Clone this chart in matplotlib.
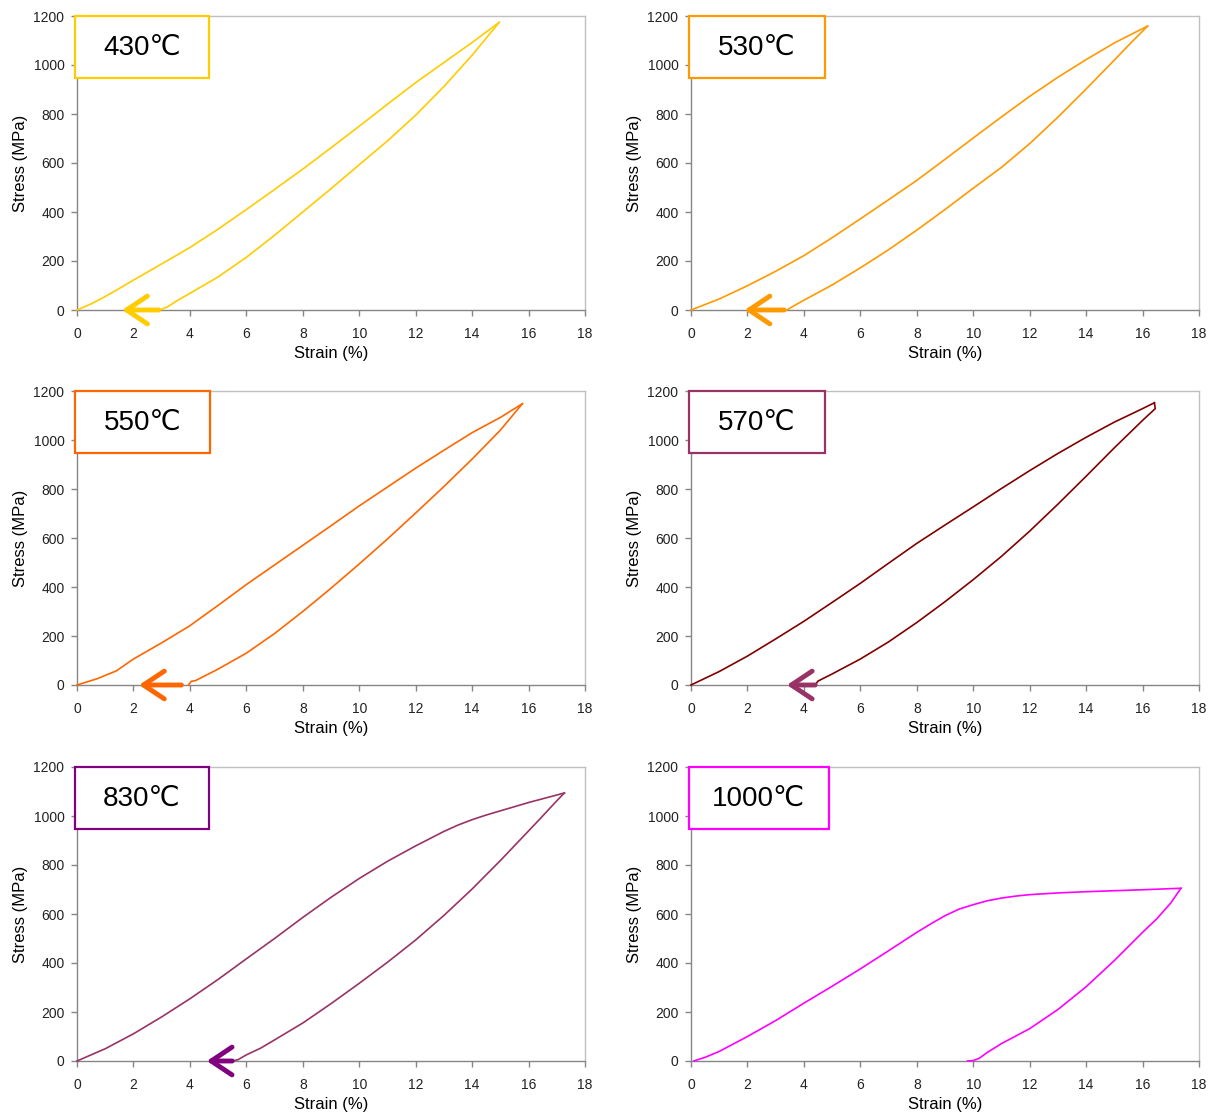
"""
Stress-strain loops at six temperatures, 3x2 grid, Excel-like styling.
"""
import matplotlib
matplotlib.use("Agg")
import matplotlib.pyplot as plt
from matplotlib.patches import Rectangle, FancyArrowPatch

plt.rcParams["font.family"] = ["Liberation Sans", "DejaVu Sans"]

# ----------------------------------------------------------------- data
TEMPS = ["430℃", "530℃", "550℃", "570℃", "830℃", "1000℃"]

load_430_x = [0, 0.5, 1, 1.5, 2, 3, 4, 5, 6, 7, 8, 9, 10, 11, 12, 13, 14, 14.96]
load_430_y = [0, 25, 55, 88, 122, 188, 255, 330, 410, 492, 575, 662, 750, 840, 928, 1010, 1092, 1174]
unload_430_x = [14.96, 14, 13, 12, 11, 10, 9, 8, 7, 6, 5, 4, 3.5, 3.2, 2.9]
unload_430_y = [1174, 1040, 912, 795, 690, 593, 495, 400, 305, 215, 135, 68, 35, 12, 0]

load_530_x = [0, 1, 2, 3, 4, 5, 6, 7, 8, 9, 10, 11, 12, 13, 14, 15, 16.18]
load_530_y = [0, 45, 99, 158, 222, 295, 372, 450, 529, 615, 702, 788, 872, 950, 1022, 1090, 1159]
unload_530_x = [16.18, 15.5, 15, 14, 13, 12, 11, 10, 9, 8, 7, 6, 5, 4, 3.6, 3.4]
unload_530_y = [1159, 1080, 1020, 902, 787, 679, 582, 497, 410, 326, 246, 172, 102, 40, 14, 0]

load_550_x = [0, 0.7, 1.4, 2, 3, 4, 5, 6, 7, 8, 9, 10, 11, 12, 13, 14, 15, 15.78]
load_550_y = [0, 25, 58, 106, 172, 242, 325, 410, 490, 570, 650, 731, 808, 885, 958, 1030, 1092, 1148]
unload_550_x = [15.78, 15, 14, 13, 12, 11, 10, 9, 8, 7, 6, 5, 4.2, 4.05, 3.95]
unload_550_y = [1148, 1040, 922, 810, 702, 596, 494, 395, 300, 210, 130, 65, 18, 15, 0]

load_570_x = [0, 1, 2, 3, 4, 5, 6, 7, 8, 9, 10, 11, 12, 13, 14, 15, 16, 16.42]
load_570_y = [0, 55, 118, 188, 260, 337, 415, 497, 578, 653, 727, 802, 875, 945, 1011, 1073, 1128, 1152]
unload_570_x = [16.42, 16.45, 16, 15, 14, 13, 12, 11, 10, 9, 8, 7, 6, 5, 4.5, 4.4]
unload_570_y = [1152, 1128, 1080, 968, 852, 738, 628, 525, 430, 340, 255, 176, 106, 45, 16, 0]

load_830_x = [0, 1, 2, 3, 4, 5, 6, 7, 8, 9, 10, 11, 12, 13, 13.5, 14, 14.5, 15, 16, 17.27]
load_830_y = [0, 50, 111, 180, 254, 333, 417, 500, 586, 668, 745, 815, 878, 937, 963, 985, 1004, 1021, 1055, 1094]
unload_830_x = [17.27, 17, 16.5, 16, 15, 14, 13, 12, 11, 10, 9, 8, 7, 6.5, 6, 5.7, 5.5]
unload_830_y = [1094, 1062, 1000, 939, 818, 702, 594, 494, 403, 317, 234, 155, 86, 52, 25, 5, 0]

load_1000_x = [0.1, 0.5, 1, 2, 3, 4, 5, 6, 7, 8, 8.5, 9, 9.5, 10, 10.5, 11, 11.5, 12, 13, 14, 15, 16, 17.36]
load_1000_y = [0, 15, 39, 100, 165, 236, 305, 376, 450, 525, 560, 593, 620, 638, 654, 665, 673, 679, 686, 691, 695, 699, 705]
unload_1000_x = [17.36, 17, 16.5, 16, 15, 14, 13, 12, 11, 10.5, 10.2, 10, 9.8]
unload_1000_y = [705, 645, 580, 525, 410, 303, 210, 132, 71, 35, 10, 2, 0]

# arrow along the strain axis at zero stress: (from, to), None = no arrow
ARROWS = [(2.9, 1.6), (3.3, 1.9), (3.7, 2.2), (4.4, 3.4), (5.5, 4.6), None]

LINE_COLORS = ["#FFCC00", "#FF9900", "#FF6600", "#800000", "#993366", "#FF00FF"]
BOX_COLORS = ["#FFCC00", "#FF9900", "#FF6600", "#993366", "#800080", "#FF00FF"]
BOX_WIDTHS = [0.264, 0.267, 0.266, 0.267, 0.264, 0.275]

LOADS = [(load_430_x, load_430_y), (load_530_x, load_530_y), (load_550_x, load_550_y),
         (load_570_x, load_570_y), (load_830_x, load_830_y), (load_1000_x, load_1000_y)]
UNLOADS = [(unload_430_x, unload_430_y), (unload_530_x, unload_530_y),
           (unload_550_x, unload_550_y), (unload_570_x, unload_570_y),
           (unload_830_x, unload_830_y), (unload_1000_x, unload_1000_y)]

W, H = 1217, 1117
COLS = [77, 691]          # left edge of plot area, px
ROWS = [310, 685, 1061]   # bottom edge of plot area, px
AW, AH = 508, 294


def panel(ax, i):
    ax.set_xlim(0, 18)
    ax.set_ylim(0, 1200)
    ax.set_xticks(range(0, 19, 2))
    ax.set_yticks(range(0, 1201, 200))
    for s in ("left", "bottom"):
        ax.spines[s].set_color("#858585")
        ax.spines[s].set_linewidth(1.0)
    for s in ("top", "right"):
        ax.spines[s].set_color("#c0c0c0")
        ax.spines[s].set_linewidth(1.0)
    ax.tick_params(direction="out", length=4, width=1, color="#858585",
                   labelsize=10, labelcolor="#222222")
    ax.tick_params(axis="x", pad=8)
    ax.tick_params(axis="y", pad=5)
    ax.set_xlabel("Strain (%)", fontsize=12, labelpad=4)
    ax.set_ylabel("Stress (MPa)", fontsize=12, labelpad=4)

    c = LINE_COLORS[i]
    lx, ly = LOADS[i]
    ux, uy = UNLOADS[i]
    ax.plot(lx, ly, color=c, lw=1.2, clip_on=False, zorder=3, solid_joinstyle="round")
    ax.plot(ux, uy, color=c, lw=1.2, clip_on=False, zorder=3, solid_joinstyle="round")

    if ARROWS[i] is not None:
        x0, x1 = ARROWS[i]
        arr = FancyArrowPatch((x0, 0), (x1, 0),
                              arrowstyle="->,head_length=0.75,head_width=0.5",
                              mutation_scale=20, lw=3.5, color=BOX_COLORS[i],
                              clip_on=False, zorder=4, shrinkA=0, shrinkB=0)
        ax.add_patch(arr)

    bw = BOX_WIDTHS[i]
    ax.add_patch(Rectangle((-0.004, 0.789), bw, 0.211, transform=ax.transAxes,
                           facecolor="white", edgecolor=BOX_COLORS[i], lw=1.6,
                           clip_on=False, zorder=5))
    ax.text(-0.004 + bw / 2, 0.892, TEMPS[i], transform=ax.transAxes,
            ha="center", va="center", fontsize=20, color="black", zorder=6)


def main():
    fig = plt.figure(figsize=(W / 100, H / 100), dpi=100)
    for i in range(6):
        r, c = divmod(i, 2)
        ax = fig.add_axes([COLS[c] / W, 1 - ROWS[r] / H, AW / W, AH / H])
        panel(ax, i)
    fig.savefig("out.png", dpi=100, facecolor="white")


if __name__ == "__main__":
    main()
